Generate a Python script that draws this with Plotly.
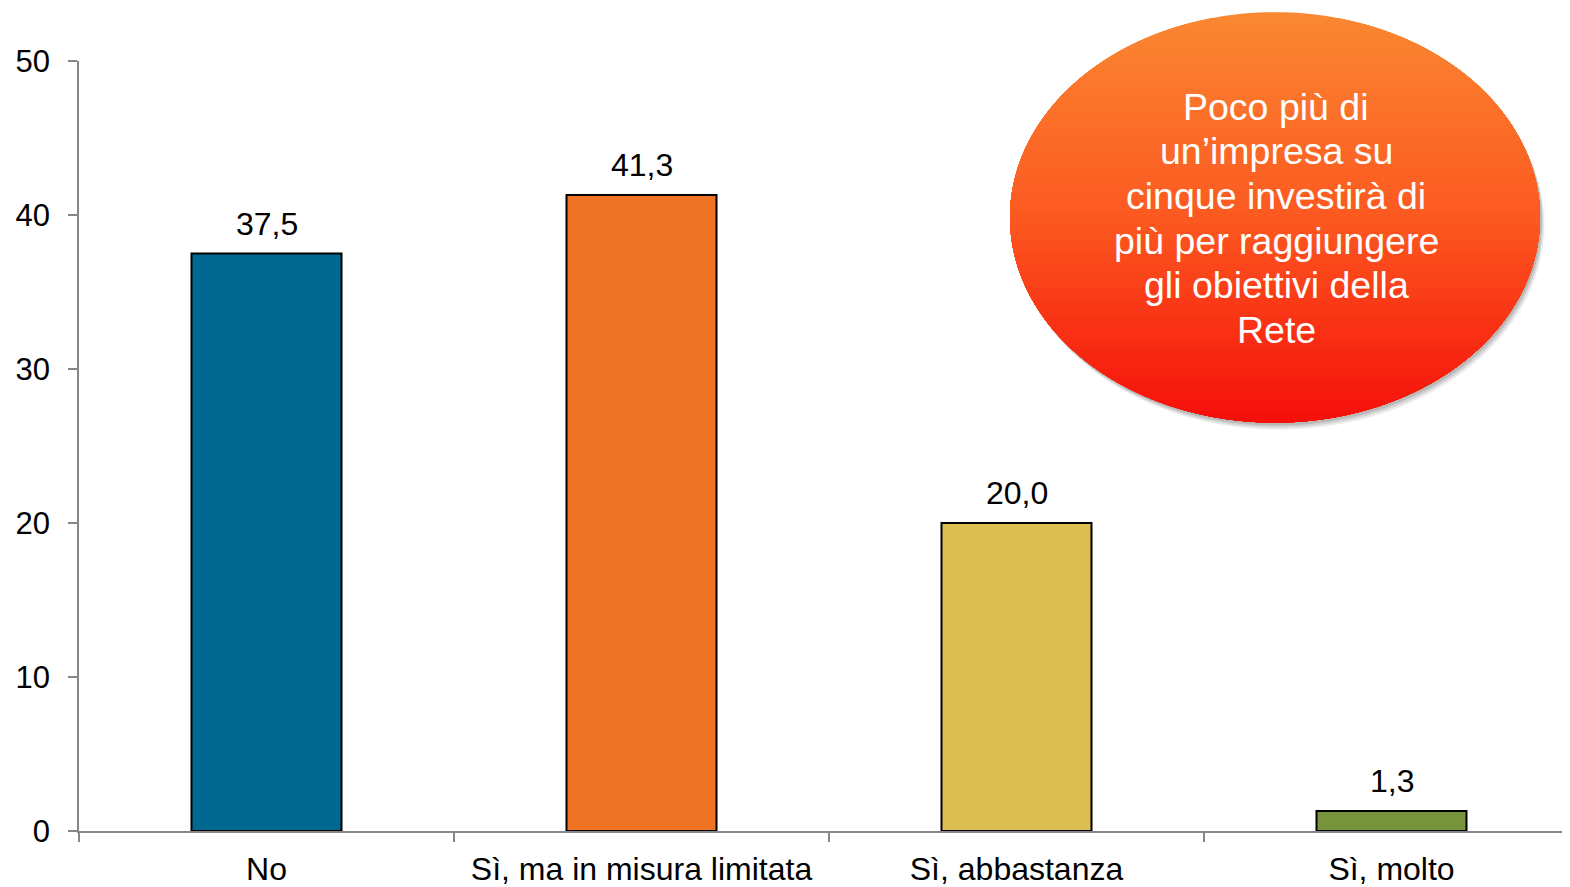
import numpy as np
import plotly.graph_objects as go

categories = ["No", "Sì, ma in misura limitata", "Sì, abbastanza", "Sì, molto"]
values = [37.5, 41.3, 20.0, 1.3]
bar_colors = ["#006891", "#EF7325", "#DCBF52", "#77933C"]
y_ticks = [0, 10, 20, 30, 40, 50]
bubble_lines = ["Poco più di", "un’impresa su", "cinque investirà di",
                "più per raggiungere", "gli obiettivi della", "Rete"]

OFF = 8  # browser body margin
W, H = 1570 - OFF, 887 - OFF
ML, MR, MT, MB = 79 - OFF, 0, 61 - OFF, 53
PW, PH = W - ML - MR, H - MT - MB

def px2x(px):
    return (px - OFF - ML) / PW

def px2y(py):
    return (H - MB - (py - OFF)) / PH

FONT = "Liberation Sans, Arial, sans-serif"

fig = go.Figure()
fig.add_trace(go.Bar(
    x=categories, y=values, width=0.40,
    marker=dict(color=bar_colors, line=dict(color="black", width=2)),
    showlegend=False, hoverinfo="x+y",
))

annotations = []
for c, v in zip(categories, values):
    annotations.append(dict(
        x=c, y=v, xref="x", yref="y", text=f"{v:.1f}".replace(".", ","),
        showarrow=False, xanchor="center", yanchor="middle", yshift=30,
        font=dict(family=FONT, size=32, color="black"),
    ))

# speech bubble (ellipse with vertical gradient)
cx, cy, a, b = 1275, 218, 265, 206

def ellipse_below(yk, n=200, dx=0, dy=0):
    c = np.clip((yk - cy) / b, -1, 1)
    phik = np.arccos(c)
    phis = np.linspace(-phik, phik, n)
    xs = cx + dx + a * np.sin(phis)
    ys = cy + dy + b * np.cos(phis)
    pts = [f"{px2x(x):.5f},{px2y(y):.5f}" for x, y in zip(xs, ys)]
    return "M" + " L".join(pts) + " Z"

shapes = []
for off, op in [(7, 0.08), (5, 0.10), (3, 0.12)]:
    shapes.append(dict(type="path", xref="paper", yref="paper",
                       path=ellipse_below(cy - b, dx=off * 0.6, dy=off),
                       fillcolor=f"rgba(0,0,0,{op})", line=dict(width=0), layer="above"))

stops = [(0.0, (250, 135, 50)), (0.5, (252, 88, 32)), (1.0, (246, 14, 10))]

def grad(t):
    for (t0, c0), (t1, c1) in zip(stops[:-1], stops[1:]):
        if t <= t1:
            f = (t - t0) / (t1 - t0)
            return tuple(int(round(c0[i] + f * (c1[i] - c0[i]))) for i in range(3))
    return stops[-1][1]

N = 70
for k in range(N):
    t = k / N
    yk = cy - b + t * 2 * b
    col = grad(t)
    shapes.append(dict(type="path", xref="paper", yref="paper",
                       path=ellipse_below(yk),
                       fillcolor=f"rgb{col}", line=dict(width=0), layer="above"))

line_y0, line_dy = 107, 44.8
for i, txt in enumerate(bubble_lines):
    annotations.append(dict(
        x=px2x(1276), y=px2y(line_y0 + i * line_dy), xref="paper", yref="paper",
        text=txt, showarrow=False, xanchor="center", yanchor="middle",
        font=dict(family=FONT, size=37.5, color="white"),
    ))

fig.update_layout(
    width=W, height=H,
    margin=dict(l=ML, r=MR, t=MT, b=MB, pad=0),
    paper_bgcolor="white", plot_bgcolor="white",
    bargap=0.6,
    shapes=shapes, annotations=annotations,
    font=dict(family=FONT, color="black"),
    xaxis=dict(
        type="category", range=[-0.5, 3.476],
        showline=True, linecolor="#868686", linewidth=1.5,
        ticks="outside", tickson="boundaries", ticklen=9, tickcolor="#868686", tickwidth=1.5,
        tickfont=dict(family=FONT, size=32, color="black"),
        ticklabelstandoff=9,
        showgrid=False, zeroline=False,
    ),
    yaxis=dict(
        range=[0, 50], tickvals=y_ticks,
        showline=True, linecolor="#868686", linewidth=1.5,
        ticks="outside", ticklen=9, tickcolor="#868686", tickwidth=1.5,
        tickfont=dict(family=FONT, size=31, color="black"),
        ticklabelstandoff=12,
        showgrid=False, zeroline=False,
    ),
)

fig.write_html("out.html")
